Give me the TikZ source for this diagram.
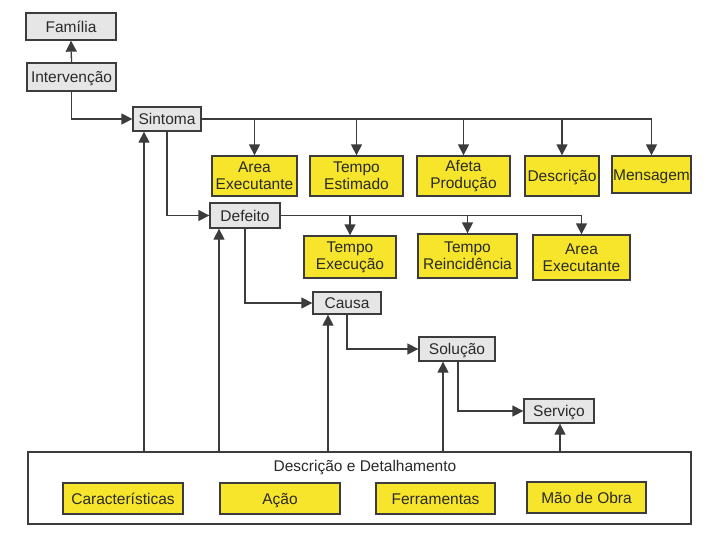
\documentclass[tikz,border=0pt]{standalone}
\usepackage{fontspec}
\setmainfont{Liberation Sans}
\usetikzlibrary{arrows.meta}
\definecolor{lnc}{HTML}{3C3C3C}
\definecolor{txc}{HTML}{2A2A2A}
\definecolor{grayfill}{HTML}{E6E6E6}
\definecolor{yel}{HTML}{F6E52A}
\begin{document}
\begin{tikzpicture}[x=1pt,y=-1pt,
  onel/.style={text height=12pt,text depth=1pt},
  gbox/.style={draw=lnc,line width=1.3pt,fill=grayfill,inner sep=0pt,text=txc,font=\fontsize{15.5}{17}\selectfont,onel},
  ybase/.style={draw=lnc,line width=1.3pt,fill=yel,inner sep=0pt,text=txc,font=\fontsize{15.5}{17}\selectfont},
  ybox/.style={ybase,onel},
  ybox2/.style={ybase,align=center},
  conn/.style={draw=lnc,line width=1.3pt},
  arr/.style={conn,-{Triangle[length=11pt,width=11pt]}}]
\useasboundingbox (0,0) rectangle (720,541);
% gray boxes
\node[gbox,minimum width=90pt,minimum height=27pt] (fam) at (71,26.5) {Família};
\node[gbox,minimum width=89pt,minimum height=28pt] (int) at (71.5,77) {Intervenção};
\node[gbox,minimum width=68pt,minimum height=24pt] (sin) at (167,119) {Sintoma};
\node[gbox,minimum width=70pt,minimum height=25pt] (def) at (245,215.5) {Defeito};
\node[gbox,minimum width=68pt,minimum height=22pt] (cau) at (347,303) {Causa};
\node[gbox,minimum width=76pt,minimum height=24pt] (sol) at (457,349) {Solução};
\node[gbox,minimum width=70pt,minimum height=24pt] (ser) at (559,411) {Serviço};
% yellow row 1
\node[ybox2,minimum width=85pt,minimum height=40pt] (a1) at (254.5,176) {Area\\Executante};
\node[ybox2,minimum width=93pt,minimum height=40pt] (a2) at (356.5,176) {Tempo\\Estimado};
\node[ybox2,minimum width=93pt,minimum height=40pt] (a3) at (463.5,176) {Afeta\\Produção};
\node[ybox,minimum width=74pt,minimum height=40pt] (a4) at (562,176) {Descrição};
\node[ybox,minimum width=79pt,minimum height=37pt] (a5) at (651.5,174.5) {Mensagem};
% yellow row 2
\node[ybox2,minimum width=92pt,minimum height=42pt] (b1) at (350,257) {Tempo\\Execução};
\node[ybox2,minimum width=99pt,minimum height=44pt] (b2) at (467.5,256) {Tempo\\Reincidência};
\node[ybox2,minimum width=97pt,minimum height=45pt] (b3) at (581.5,257.5) {Area\\Executante};
% bottom box
\node[draw=lnc,line width=1.3pt,fill=white,minimum width=663pt,minimum height=72pt,inner sep=0pt] (dd) at (359.5,488) {};
\node[text=txc,font=\fontsize{15.5}{17}\selectfont,onel] (ddt) at (365,466) {Descrição e Detalhamento};
\node[ybox,minimum width=120pt,minimum height=31pt] (c1) at (123,498.5) {Características};
\node[ybox,minimum width=120pt,minimum height=31pt] (c2) at (280,498.5) {Ação};
\node[ybox,minimum width=119pt,minimum height=31pt] (c3) at (435.5,498.5) {Ferramentas};
\node[ybox,minimum width=119pt,minimum height=31pt] (c4) at (586.5,497.5) {Mão de Obra};
% connectors
\draw[arr] (int.north) -- (fam.south);
\draw[arr] (int.south) |- (sin.west);
\draw[conn] (sin.east) -- (sin.east -| a5.north);
\foreach \t in {a1,a2,a3,a4,a5} \draw[arr] (sin.east -| \t.north) -- (\t.north);
\draw[arr] (sin.south) |- (def.west);
\draw[conn] (def.east) -- (def.east -| b3.north);
\foreach \t in {b1,b2,b3} \draw[arr] (def.east -| \t.north) -- (\t.north);
\draw[arr] (def.south) |- (cau.west);
\draw[arr] (cau.south) |- (sol.west);
\draw[arr] ([xshift=1pt]sol.south) |- (ser.west);
\coordinate (p1) at (144,452);
\coordinate (p2) at (219,452);
\coordinate (p3) at (328,452);
\coordinate (p4) at (443,452);
\coordinate (p5) at (560,452);
\draw[arr] (p1) -- (p1 |- sin.south);
\draw[arr] (p2) -- (p2 |- def.south);
\draw[arr] (p3) -- (p3 |- cau.south);
\draw[arr] (p4) -- (p4 |- sol.south);
\draw[arr] (p5) -- (p5 |- ser.south);
\end{tikzpicture}
\end{document}
